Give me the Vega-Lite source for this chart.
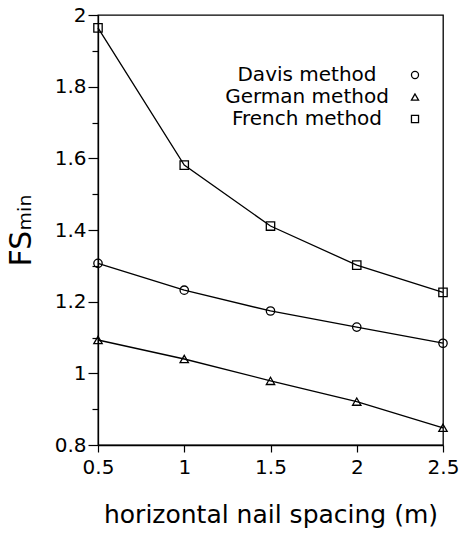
{
  "$schema": "https://vega.github.io/schema/vega-lite/v6.json",
  "autosize": "none",
  "width": 345,
  "height": 430,
  "padding": {"left": 98, "top": 15, "right": 18, "bottom": 91},
  "background": "white",
  "config": {
    "font": "DejaVu Sans",
    "view": {"stroke": "black", "strokeWidth": 1.3},
    "axis": {"domainColor": "black", "tickColor": "black", "labelColor": "black", "titleColor": "black", "grid": false, "domainWidth": 1.3, "tickWidth": 1.2, "labelFont": "DejaVu Sans", "titleFont": "DejaVu Sans", "titleFontWeight": "normal"}
  },
  "data": {
    "values": [
      {"x": 0.5, "fs": 1.964, "method": "French method"},
      {"x": 1.0, "fs": 1.581, "method": "French method"},
      {"x": 1.5, "fs": 1.411, "method": "French method"},
      {"x": 2.0, "fs": 1.302, "method": "French method"},
      {"x": 2.5, "fs": 1.226, "method": "French method"},
      {"x": 0.5, "fs": 1.307, "method": "Davis method"},
      {"x": 1.0, "fs": 1.232, "method": "Davis method"},
      {"x": 1.5, "fs": 1.174, "method": "Davis method"},
      {"x": 2.0, "fs": 1.129, "method": "Davis method"},
      {"x": 2.5, "fs": 1.084, "method": "Davis method"},
      {"x": 0.5, "fs": 1.093, "method": "German method"},
      {"x": 1.0, "fs": 1.040, "method": "German method"},
      {"x": 1.5, "fs": 0.979, "method": "German method"},
      {"x": 2.0, "fs": 0.921, "method": "German method"},
      {"x": 2.5, "fs": 0.848, "method": "German method"}
    ]
  },
  "encoding": {
    "x": {
      "field": "x", "type": "quantitative",
      "scale": {"domain": [0.5, 2.5], "nice": false, "zero": false},
      "axis": {"values": [0.5, 1, 1.5, 2, 2.5], "labelExpr": "toString(datum.value)", "tickSize": 7, "labelFontSize": 20, "labelPadding": 5, "title": "horizontal nail spacing (m)", "titleFontSize": 25, "titlePadding": 25, "labelFlush": false}
    },
    "y": {
      "field": "fs", "type": "quantitative",
      "scale": {"domain": [0.8, 2.0], "nice": false, "zero": false},
      "axis": {
        "values": [0.8, 0.9, 1.0, 1.1, 1.2, 1.3, 1.4, 1.5, 1.6, 1.7, 1.8, 1.9, 2.0],
        "labelExpr": "round(datum.value*10)%2==0 ? toString(round(datum.value*10)/10) : ''",
        "tickSize": {"condition": {"test": "round(datum.value*10)%2==1", "value": 6}, "value": 10},
        "labelFontSize": 20, "labelPadding": 2, "labelFlush": false,
        "title": "FSₘᵢₙ", "titleFontSize": 30, "titlePadding": 18
      }
    }
  },
  "layer": [
    {
      "mark": {"type": "line", "color": "black", "strokeWidth": 1.3},
      "encoding": {"detail": {"field": "method"}}
    },
    {
      "mark": {"type": "point", "filled": false, "color": "black", "strokeWidth": 1.3, "opacity": 1},
      "encoding": {
        "shape": {
          "field": "method", "type": "nominal",
          "scale": {"domain": ["Davis method", "German method", "French method"], "range": ["circle", "triangle-up", "square"]},
          "legend": {
            "title": null, "orient": "none", "legendX": 307, "legendY": 50,
            "labelFontSize": 20, "labelAlign": "center", "labelOffset": -118, "labelLimit": 400,
            "symbolSize": 50, "symbolStrokeColor": "black", "symbolStrokeWidth": 1.3, "symbolFillColor": "transparent",
            "rowPadding": 2, "labelColor": "black"
          }
        },
        "size": {"value": 70}
      }
    }
  ]
}
